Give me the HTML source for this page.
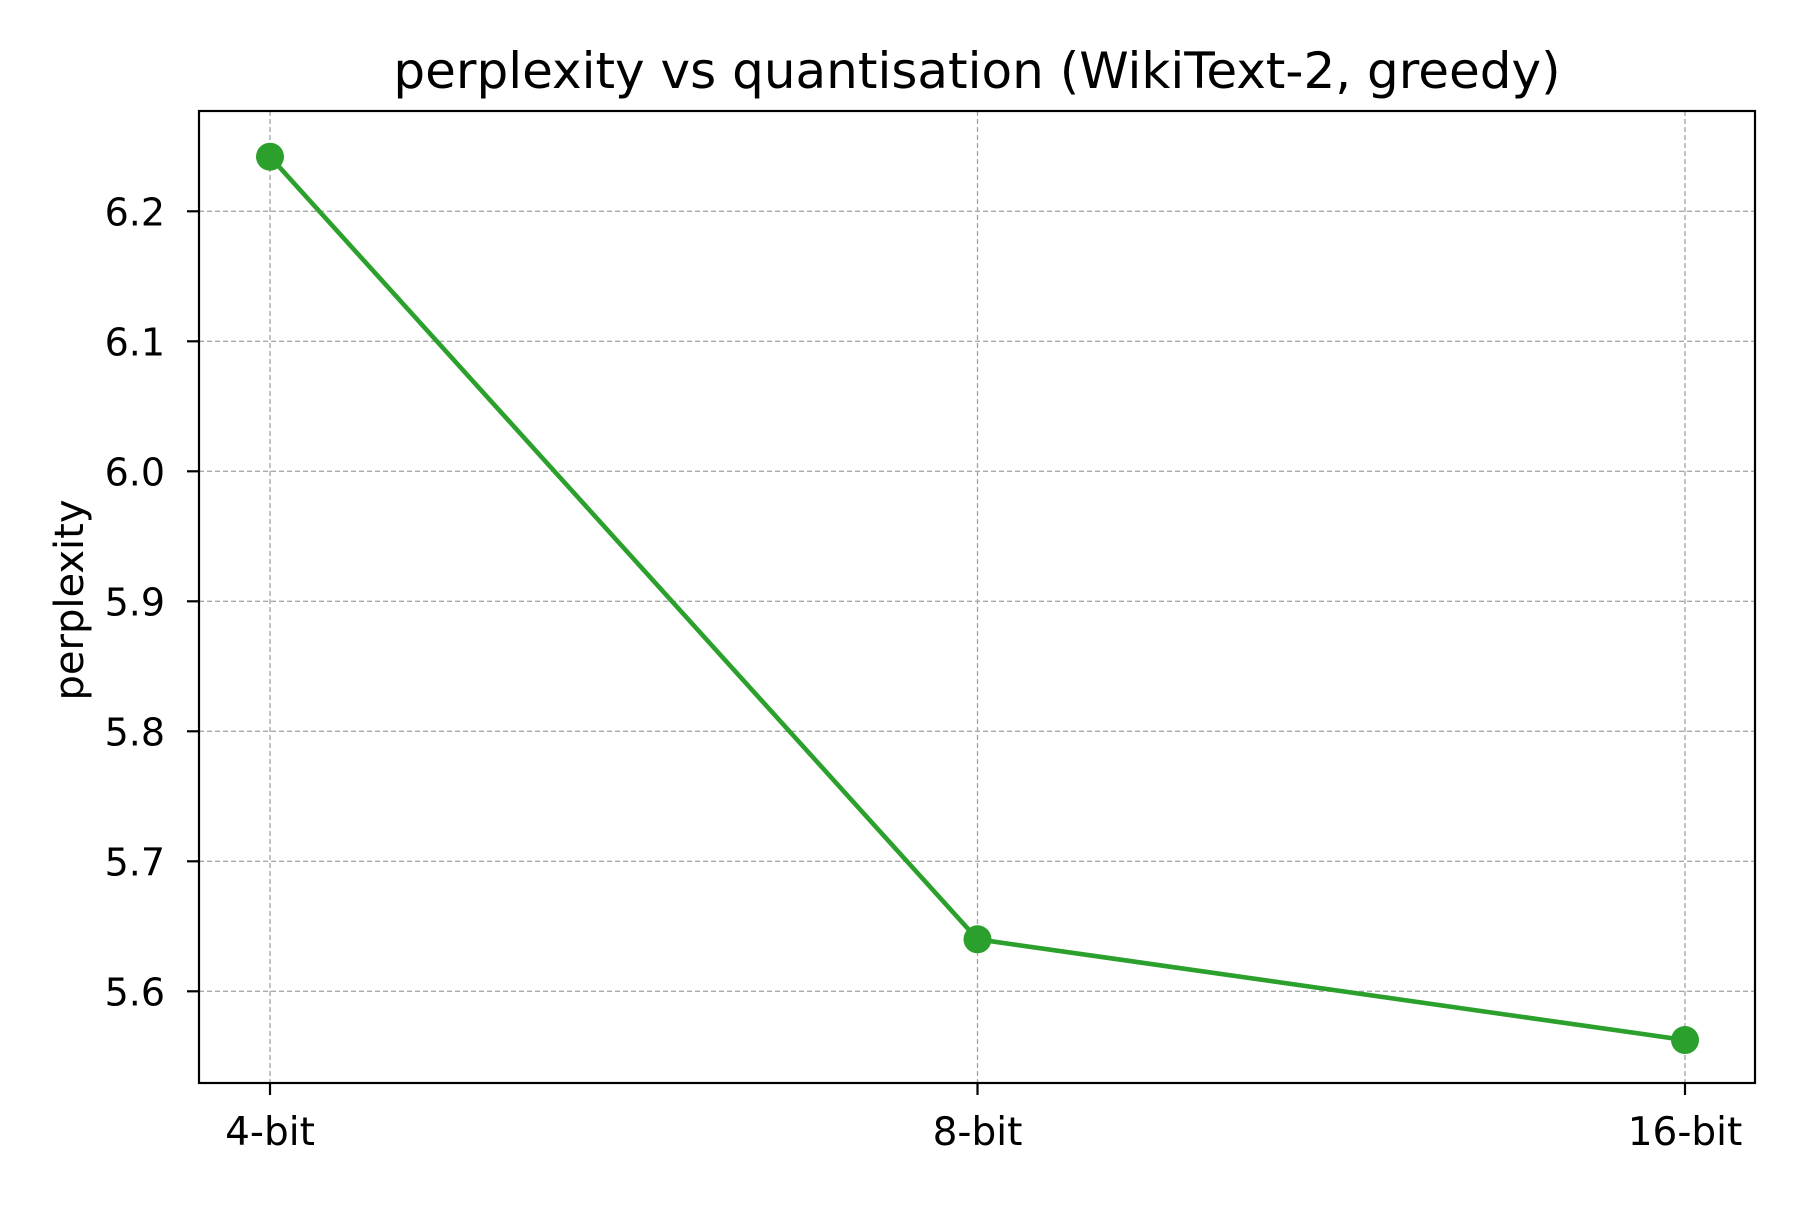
<!DOCTYPE html>
<html><head><meta charset="utf-8"><style>
html,body{margin:0;padding:0;background:#fff;}
svg text{font-family:"DejaVu Sans","Liberation Sans",sans-serif;fill:#000;}
</style></head><body>
<svg id="chart" width="1800" height="1200" viewBox="0 0 1800 1200" xmlns="http://www.w3.org/2000/svg">
<rect width="1800" height="1200" fill="#fff"/>
<text x="977" y="88" font-size="50" text-anchor="middle">perplexity vs quantisation (WikiText-2, greedy)</text>
<g id="grid"></g>
<g id="ticks"></g>
<text transform="translate(83,600) rotate(-90)" font-size="40" text-anchor="middle">perplexity</text>
<g id="series"></g>
<rect x="199" y="111" width="1556" height="972" fill="none" stroke="#000" stroke-width="2.2"/>
</svg>
<script>
const categories = ["4-bit", "8-bit", "16-bit"];
const perplexity = [6.242, 5.640, 5.5625];
const yTicks = [5.6, 5.7, 5.8, 5.9, 6.0, 6.1, 6.2];
const yTickLabels = ["5.6", "5.7", "5.8", "5.9", "6.0", "6.1", "6.2"];

const L=199,R=1755,T=111,B=1083;
const x0=270,x1=1685;
function xs(i){return x0+(x1-x0)*i/(categories.length-1);}
function ys(v){return 991.3-(v-5.6)*1300;}
const NS="http://www.w3.org/2000/svg";
function mk(tag,attrs,parent){const e=document.createElementNS(NS,tag);for(const k in attrs)e.setAttribute(k,attrs[k]);parent.appendChild(e);return e;}
const grid=document.getElementById('grid'),ticks=document.getElementById('ticks'),series=document.getElementById('series');
yTicks.forEach((v,i)=>{
  const y=ys(v);
  const g=mk('line',{x1:L,x2:R,y1:y,y2:y,stroke:'#a8a8a8','stroke-width':1.4,'stroke-dasharray':'5,3'},grid);
  
  
  const t=mk('line',{x1:L-12,x2:L,y1:y,y2:y,stroke:'#000','stroke-width':2.2},ticks);
  
  
  const lb=mk('text',{x:L-34,y:y+14,'font-size':38,'text-anchor':'end'},ticks);
  lb.textContent=yTickLabels[i];
  
  
});
categories.forEach((c,i)=>{
  const x=xs(i);
  const g=mk('line',{x1:x,x2:x,y1:T,y2:B,stroke:'#a8a8a8','stroke-width':1.4,'stroke-dasharray':'5,3'},grid);
  
  
  const t=mk('line',{x1:x,x2:x,y1:B,y2:B+12,stroke:'#000','stroke-width':2.2},ticks);
  
  
  const lb=mk('text',{x:x,y:B+62,'font-size':39,'text-anchor':'middle'},ticks);
  lb.textContent=c;
  
  
});
const pts=perplexity.map((v,i)=>xs(i)+','+ys(v)).join(' ');
const line=mk('polyline',{points:pts,fill:'none',stroke:'#2ca02c','stroke-width':4.6},series);


perplexity.forEach((v,i)=>{
  const c=mk('circle',{cx:xs(i),cy:ys(v),r:14,fill:'#2ca02c'},series);
  
  
});
</script>
</body></html>
